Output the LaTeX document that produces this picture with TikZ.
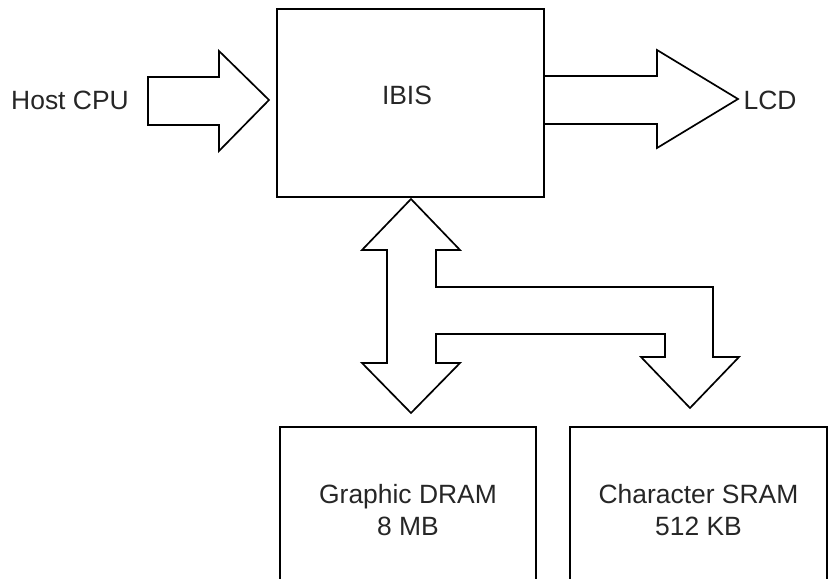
\documentclass[tikz,border=0pt]{standalone}
\usepackage{fontspec}
\setmainfont{Liberation Sans}
\newcommand{\blkfont}{\fontsize{18.8}{23.4}\selectfont}

\begin{document}
\begin{tikzpicture}[x=0.025cm,y=-0.025cm,
        blk/.style={rectangle,draw,line width=1.2pt,align=center,font=\blkfont,text=black!85},
        txt/.style={font=\blkfont,text=black!85},
        fat/.style={draw,line width=1.2pt,line join=miter}]
        \clip (0,0) rectangle (834,578);
        \node[blk,minimum width=6.675cm,minimum height=4.7cm,
            label={[txt,xshift=-2.5pt,yshift=5.7pt]center:IBIS}] (ibis) at (410.5,103) {};
        \node[blk,minimum width=6.4cm,minimum height=4.15cm] (dram) at (408,510) {Graphic DRAM\\8 MB};
        \node[blk,minimum width=6.425cm,minimum height=4.15cm] (sram) at (698.5,510) {Character SRAM\\512 KB};
        \node[txt] (host) at (70,100) {Host CPU};
        \node[txt] (lcd) at (770,100) {LCD};
        % host -> ibis
        \draw[fat] (148,77) -- (219,77) -- (219,51) -- (269,100) -- (219,151) -- (219,125) -- (148,125) -- cycle;
        % ibis -> lcd
        \draw[fat] (544,76) -- (657,76) -- (657,50) -- (738,99) -- (657,148) -- (657,124) -- (544,124);
        % ibis <-> dram, sram
        \draw[fat] (411,199) -- (460,250) -- (436,250) -- (436,287) -- (713,287) -- (713,357) -- (739,357)
            -- (690,408) -- (641,357) -- (665,357) -- (665,334) -- (436,334) -- (436,363) -- (460,363)
            -- (411,413) -- (362,363) -- (387,363) -- (387,250) -- (362,250) -- cycle;
    \end{tikzpicture}
\end{document}
